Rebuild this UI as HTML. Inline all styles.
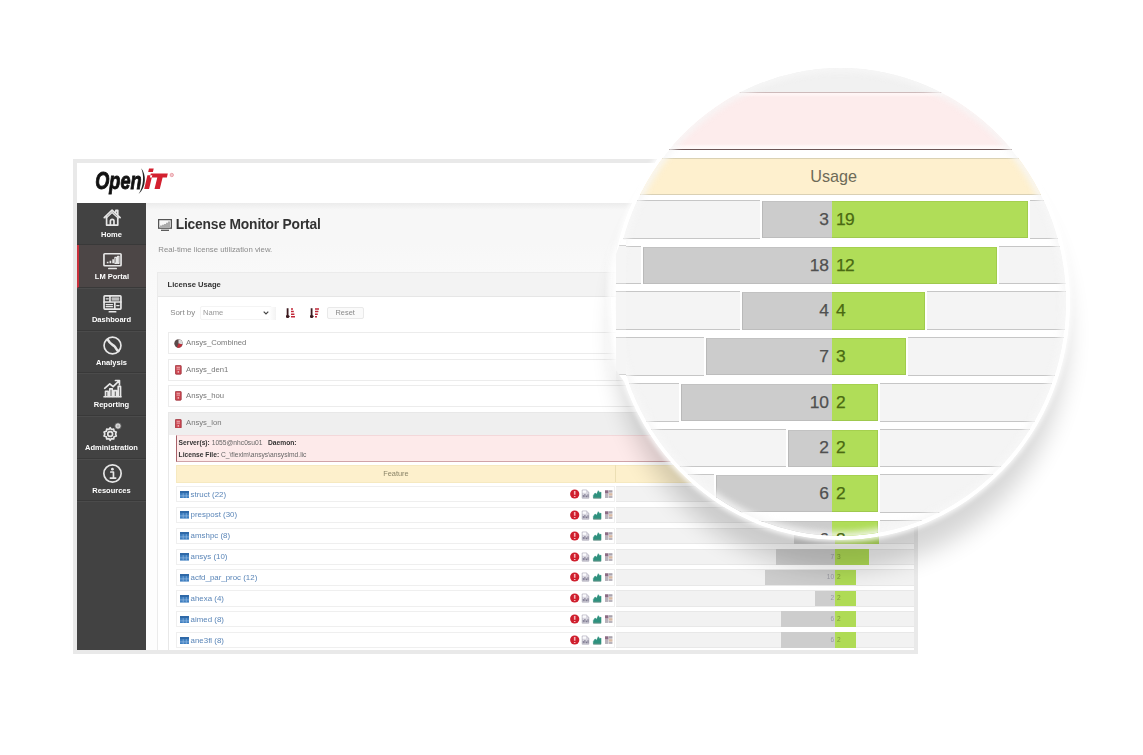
<!DOCTYPE html><html><head><meta charset="utf-8"><title>License Monitor Portal</title><style>
*{box-sizing:border-box;margin:0;padding:0}
html,body{width:1143px;height:755px;background:#fff;overflow:hidden}
body{position:relative;font-family:"Liberation Sans",sans-serif;color:#555}
.abs{position:absolute}
.t{position:absolute;white-space:nowrap;line-height:1}
#frame{left:73px;top:159px;width:845px;height:495px;background:#e9e9e9}
#inner{left:77px;top:162.5px;width:836.5px;height:487.5px;background:linear-gradient(#f7f7f7 0,#f7f7f7 80px,#f9f9f9 110px,#fbfbfb 200px,#fdfdfd 300px);overflow:hidden;filter:blur(0.4px)}
#hdr{left:0;top:0;width:100%;height:40px;background:#fff}
#side{left:0;top:40px;width:69px;height:448px;background:#424242}
.nav{position:absolute;left:0;width:69px;height:42.7px;border-bottom:1px solid #393939;box-shadow:0 1px 0 #4b4b4b}
.nav .lbl{position:absolute;left:0;width:100%;text-align:center;color:#fff;font-size:7.5px;font-weight:bold;line-height:1;top:28.2px;white-space:nowrap}
.nav svg{position:absolute;left:25.7px;top:5.7px;width:19px;height:19px;overflow:visible}
.nav.act{background:#4c4646;border-left:2px solid #c9303c}
.nav.act .lbl{left:-0.6px}.nav.act svg{left:23.7px}
.row{position:absolute;background:#fff;border:1px solid #ececec}
.frow{position:absolute;background:#fff;border:1px solid #efefef}
</style></head><body>
<div class="abs" id="frame"></div>
<div class="abs" id="inner">
<div class="abs" id="hdr"></div>
<svg class="abs" style="left:15px;top:2px;width:100px;height:36px" viewBox="92 164.5 100 36"><text x="0" y="0" transform="translate(95.3 188.4) scale(0.77 1)" font-family="Liberation Sans" font-weight="bold" font-style="italic" font-size="23.5" fill="#111" stroke="#111" stroke-width="0.9">Open</text><path d="M141.2 167.8 C146.4 174 146.6 186.5 138.6 193.6 C143.8 186 144.2 174.5 141.2 167.8Z" fill="#222"/><path d="M144.2 188.4 L149.1 188.4 L152.3 174.8 L147.4 174.8 Z M148.2 171.5 L152.9 171.5 L153.7 168 L149 168 Z M150.8 173.1 L167.8 173.1 L166.9 176.9 L149.9 176.9 Z M157.3 176.9 L162.6 176.9 L159.8 188.4 L154.5 188.4 Z" fill="#d3202f"/><circle cx="171.8" cy="174.5" r="1.7" fill="#f3c9cd" stroke="#e58d96" stroke-width="0.7"/></svg>
<div class="abs" style="left:69px;top:40px;width:770px;height:7px;background:linear-gradient(#ececec,#f7f7f7)"></div>
<div class="abs" id="side">
<div class="nav" style="top:0.0px"><svg viewBox="0 0 18 18"><path d="M1.2 9.2 L8.6 2 L16.2 9.2 M3.4 8.6 V16.2 H14 V8.6 M7 16 V12.4 a1.7 1.7 0 0 1 3.4 0 V16 M12.2 3.6 V2.2 H14 V6.2" stroke="#e6e6e6" fill="none" stroke-width="1.6" stroke-linejoin="round" stroke-linecap="round"/><path d="M3 9.6 L8.6 4.3 L14.4 9.6" stroke="#e6e6e6" fill="none" stroke-width="1.2" stroke-linejoin="round" stroke-linecap="round"/></svg><div class="lbl">Home</div></div>
<div class="nav act" style="top:42.7px"><svg viewBox="0 0 18 18"><rect x="0.9" y="2.6" width="16.2" height="11.4" rx="0.8" stroke="#e6e6e6" fill="none" stroke-width="1.6" stroke-linejoin="round" stroke-linecap="round"/><path d="M5.5 16.6 H12.5" stroke="#e6e6e6" fill="none" stroke-width="1.6" stroke-linejoin="round" stroke-linecap="round"/><path d="M3.6 11.6h1.6v-1.4H3.6z M6.2 11.6h1.6V9.2H6.2z M8.8 11.6h1.6V7.8H8.8z" fill="#e6e6e6"/><rect x="11.3" y="6" width="1.6" height="5.6" stroke="#e6e6e6" fill="none" stroke-width="1.2" stroke-linejoin="round" stroke-linecap="round"/><rect x="13.8" y="5" width="1.3" height="6.6" stroke="#e6e6e6" fill="none" stroke-width="1.2" stroke-linejoin="round" stroke-linecap="round"/></svg><div class="lbl">LM Portal</div></div>
<div class="nav" style="top:85.4px"><svg viewBox="0 0 18 18"><rect x="1" y="1.8" width="16" height="12.6" rx="0.8" stroke="#e6e6e6" fill="none" stroke-width="1.6" stroke-linejoin="round" stroke-linecap="round"/><path d="M6 16.8 H12 M1 7.6 H17 M6.6 1.8 V7.6 M11.2 7.6 V14.4" stroke="#e6e6e6" fill="none" stroke-width="1.6" stroke-linejoin="round" stroke-linecap="round"/><path d="M3 4.6h2 M8.6 4h6.4 M8.6 5.6h6.4 M3 10h6 M3 12h6 M13 11h2.2" stroke="#e6e6e6" fill="none" stroke-width="1.2" stroke-linejoin="round" stroke-linecap="round"/></svg><div class="lbl">Dashboard</div></div>
<div class="nav" style="top:128.1px"><svg viewBox="0 0 18 18"><circle cx="9" cy="9" r="8" stroke="#e6e6e6" fill="none" stroke-width="1.6" stroke-linejoin="round" stroke-linecap="round"/><path d="M4.6 3.6 C6.2 7.2 8.6 8 10.6 9.4 C12.6 10.8 12 13.4 14.6 14.2" stroke="#e6e6e6" fill="none" stroke-width="2.4" stroke-linecap="round"/></svg><div class="lbl">Analysis</div></div>
<div class="nav" style="top:170.8px"><svg viewBox="0 0 18 18"><path d="M1 16.8 H17" stroke="#e6e6e6" fill="none" stroke-width="1.6" stroke-linejoin="round" stroke-linecap="round"/><path d="M2.4 16.4V11.6h2.4V16.4 M6.4 16.4V9.4h2.4V16.4 M10.4 16.4V11h2.4V16.4 M14.4 16.4V7h2.2V16.4 M1.6 8.8 L6.4 4.6 L9.6 7.2 L15.4 1.6 M11.8 1.4 H15.6 V5.2" stroke="#e6e6e6" fill="none" stroke-width="1.6" stroke-linejoin="round" stroke-linecap="round"/></svg><div class="lbl">Reporting</div></div>
<div class="nav" style="top:213.5px"><svg viewBox="0 0 18 18"><circle cx="6.8" cy="11.4" r="2.3" stroke="#e6e6e6" fill="none" stroke-width="1.6" stroke-linejoin="round" stroke-linecap="round"/><path d="M6.8 5.4 L8 7.1 L10.1 6.7 L10.5 8.8 L12.6 9.5 L11.9 11.4 L12.6 13.3 L10.5 14 L10.1 16.1 L8 15.7 L6.8 17.4 L5.6 15.7 L3.5 16.1 L3.1 14 L1 13.3 L1.7 11.4 L1 9.5 L3.1 8.8 L3.5 6.7 L5.6 7.1 Z" stroke="#e6e6e6" fill="none" stroke-width="1.6" stroke-linejoin="round" stroke-linecap="round"/><circle cx="14.2" cy="3.8" r="3.1" fill="#d2d2d2" stroke="#444" stroke-width="0.8"/><circle cx="14.2" cy="3.8" r="0.8" fill="#9a9a9a"/></svg><div class="lbl">Administration</div></div>
<div class="nav" style="top:256.2px"><svg viewBox="0 0 18 18"><circle cx="9" cy="9" r="8.2" stroke="#e6e6e6" fill="none" stroke-width="1.6" stroke-linejoin="round" stroke-linecap="round"/><path d="M7.4 7.6 H9.9 V13 M7 13.3 H12" stroke="#e6e6e6" fill="none" stroke-width="1.6" stroke-linejoin="round" stroke-linecap="round"/><circle cx="8.9" cy="4.9" r="1.3" fill="#e6e6e6"/></svg><div class="lbl">Resources</div></div>
</div>
<svg class="abs" style="left:81.2px;top:56.5px;width:14px;height:12px" viewBox="0 0 14 12"><rect x="0.6" y="0.6" width="12.8" height="8.6" fill="none" stroke="#555" stroke-width="1.3"/><path d="M3 11.3h8" stroke="#555" stroke-width="1.3"/><path d="M3 8V6.6 M5 8V5.8 M7 8V5 M9 8V3.8 M11 8V2.6" stroke="#777" stroke-width="1.2"/></svg>
<div class="t" style="left:98.7px;top:55.2px;font-size:13.8px;font-weight:bold;color:#333;letter-spacing:-0.17px">License Monitor Portal</div>
<div class="t" style="left:81.3px;top:83.13px;font-size:7.8px;color:#8c8c8c;">Real-time license utilization view.</div>
<div class="abs" style="left:80.4px;top:109.1px;width:770px;height:400px;background:#fff;border:1px solid #ebebeb"></div>
<div class="abs" style="left:81.4px;top:110.1px;width:770px;height:24.5px;background:#f3f3f3;border-bottom:1px solid #e6e6e6"></div>
<div class="t" style="left:90.6px;top:118.54px;font-size:7.6px;color:#333;font-weight:bold;">License Usage</div>
<div class="t" style="left:93.2px;top:146.38px;font-size:7.9px;color:#888;">Sort by</div>
<div class="t" style="left:126px;top:146.54px;font-size:7.6px;color:#999;">Name</div>
<svg class="abs" style="left:185.5px;top:148.5px;width:6px;height:4px" viewBox="0 0 6 4"><path d="M0.7 0.7 L3 3 L5.3 0.7" fill="none" stroke="#444" stroke-width="1.2"/></svg>
<div class="abs" style="left:122.5px;top:143.3px;width:72px;height:14.4px;border:1px solid #f4f4f4;border-radius:2px"></div>
<div class="abs" style="left:192px;top:144px;width:7px;height:13px;background:linear-gradient(90deg,#fff,#f3f3f3)"></div>
<svg class="abs" style="left:208.8px;top:145.2px;width:9px;height:10px" viewBox="0 0 9 10"><path d="M1.6 0.3V9.5 M0 7.6 L1.6 9.7 L3.2 7.6" stroke="#3d1a1f" stroke-width="1.8" fill="none"/><path d="M5 1h2 M5 3.6h2.8 M5 6.2h3.4 M5 8.8h4" stroke="#c22839" stroke-width="1.5"/></svg>
<svg class="abs" style="left:233.2px;top:145.2px;width:9px;height:10px" viewBox="0 0 9 10"><path d="M1.6 0.3V9.5 M0 7.6 L1.6 9.7 L3.2 7.6" stroke="#3d1a1f" stroke-width="1.8" fill="none"/><path d="M5 1h4 M5 3.6h3.4 M5 6.2h2.8 M5 8.8h2" stroke="#c22839" stroke-width="1.5"/></svg>
<div class="abs" style="left:250px;top:144.3px;width:36.5px;height:12.4px;background:#fafafa;border:1px solid #e9e9e9;border-radius:2px"></div>
<div class="t" style="left:258.5px;top:146.36px;font-size:7.4px;color:#888;">Reset</div>
<div class="row" style="left:90.7px;top:169.7px;width:760px;height:22px;"></div>
<svg class="abs" style="left:97.3px;top:176.2px;width:9px;height:9px" viewBox="0 0 9 9"><circle cx="4.5" cy="4.5" r="4.2" fill="#5a4a4a"/><path d="M4.5 4.5 L4.5 0.3 A4.2 4.2 0 0 1 8.5 5.6 Z" fill="#d9d9d9"/><path d="M4.5 4.5 L8.5 5.6 A4.2 4.2 0 0 1 3 8.4 Z" fill="#c0303c"/></svg>
<div class="t" style="left:109px;top:176.79px;font-size:7.7px;color:#777;">Ansys_Combined</div>
<div class="row" style="left:90.7px;top:196.6px;width:760px;height:22px;"></div>
<svg class="abs" style="left:98.1px;top:202.8px;width:6.6px;height:9.6px" viewBox="0 0 6.6 9.6"><rect x="0.4" y="0.4" width="5.8" height="8.8" rx="0.7" fill="#cf4a54" stroke="#9a3039" stroke-width="0.8"/><path d="M1.6 2.3h3.4 M1.6 4.1h3.4" stroke="#f3c7ca" stroke-width="0.8"/><circle cx="3.3" cy="6.9" r="0.8" fill="#f3c7ca"/></svg>
<div class="t" style="left:109px;top:203.69px;font-size:7.7px;color:#777;">Ansys_den1</div>
<div class="row" style="left:90.7px;top:222.5px;width:760px;height:22px;"></div>
<svg class="abs" style="left:98.1px;top:228.7px;width:6.6px;height:9.6px" viewBox="0 0 6.6 9.6"><rect x="0.4" y="0.4" width="5.8" height="8.8" rx="0.7" fill="#cf4a54" stroke="#9a3039" stroke-width="0.8"/><path d="M1.6 2.3h3.4 M1.6 4.1h3.4" stroke="#f3c7ca" stroke-width="0.8"/><circle cx="3.3" cy="6.9" r="0.8" fill="#f3c7ca"/></svg>
<div class="t" style="left:109px;top:229.59px;font-size:7.7px;color:#777;">Ansys_hou</div>
<div class="abs" style="left:90.7px;top:249.9px;width:760px;height:250px;background:#fff;border:1px solid #e8e8e8"></div>
<div class="abs" style="left:91.7px;top:250.9px;width:760px;height:21.5px;background:#efefef"></div>
<svg class="abs" style="left:98.1px;top:256.1px;width:6.6px;height:9.6px" viewBox="0 0 6.6 9.6"><rect x="0.4" y="0.4" width="5.8" height="8.8" rx="0.7" fill="#cf4a54" stroke="#9a3039" stroke-width="0.8"/><path d="M1.6 2.3h3.4 M1.6 4.1h3.4" stroke="#f3c7ca" stroke-width="0.8"/><circle cx="3.3" cy="6.9" r="0.8" fill="#f3c7ca"/></svg>
<div class="t" style="left:109px;top:256.99px;font-size:7.7px;color:#777;">Ansys_lon</div>
<div class="abs" style="left:98.7px;top:272px;width:760px;height:27px;background:#fdeaea;border:1px solid #dba3a8;border-bottom:1.6px solid #d0a3a8;border-top-color:#f3d8da;border-left:1.5px solid #a8626a"></div>
<div class="t" style="left:101.6px;top:277.6px;font-size:6.7px;color:#666"><b style="color:#333">Server(s):</b> 1055@nhc0su01 &nbsp; <b style="color:#333">Daemon:</b></div>
<div class="t" style="left:101.6px;top:289.2px;font-size:6.7px;color:#666"><b style="color:#333">License File:</b> C_\flexlm\ansys\ansyslmd.lic</div>
<div class="abs" style="left:98.7px;top:302.1px;width:760px;height:18px;background:#fdf0cc;border:1px solid #f6e9c0"></div>
<div class="abs" style="left:537.9px;top:302.5px;width:1px;height:17.2px;background:#ecdfb4"></div>
<div class="t" style="left:306.2px;top:307.36px;font-size:7.4px;color:#8a8468;">Feature</div>
<div class="frow" style="left:98.7px;top:323.3px;width:439.8px;height:16.3px;"></div>
<div class="abs" style="left:539.2px;top:323.3px;width:320px;height:16.3px;background:#f2f2f2;border-top:1px solid #e8e8e8;border-bottom:1px solid #e8e8e8"></div>
<svg class="abs" style="left:102.5px;top:328px;width:9.4px;height:7.6px" viewBox="0 0 9.4 7.6"><rect width="9.4" height="7.6" fill="#3f7fc0"/><rect y="0" width="9.4" height="2.2" fill="#2f69a8"/><path d="M0 4.9h9.4 M3.2 2.2v5.4 M6.3 2.2v5.4" stroke="#9dc1e6" stroke-width="0.6"/></svg>
<div class="t" style="left:113.6px;top:328.08px;font-size:7.9px;color:#5b86b8;">struct (22)</div>
<svg class="abs" style="left:492.9px;top:326.3px;width:44px;height:10px" viewBox="0 0 44 10"><circle cx="4.7" cy="5" r="4.6" fill="#cf1f2e"/><path d="M4.7 2.1V5.7 M4.7 7V8.1" stroke="#f6b4b8" stroke-width="1.6"/><path d="M12.2 1h4.2l2.4 2.2v6h-6.6z" fill="#d9d7e0" stroke="#a9a6b6" stroke-width="0.7"/><path d="M12.6 1.4h3.4v2.4h-3.4z" fill="#fbfbfd"/><path d="M13.3 8.3v-2.2 M14.9 8.3v-3.4 M16.5 8.3v-1.8 M18 8.3v-3" stroke="#7e7a90" stroke-width="1.1"/><path d="M23.4 8.8V6.4l1.7-2.4 1.5 1.3 1.7-3.6 1.5 2.1 1.2-.7V8.8z" fill="#2e917e" stroke="#2e917e" stroke-width="0.6" stroke-linejoin="round"/><path d="M23.2 9.1h8" stroke="#3f6f66" stroke-width="0.7"/><rect x="35" y="1.3" width="7.4" height="7.4" fill="#e6e4e8"/><path d="M35 1.3h3.4v3.2H35z" fill="#8c6c84"/><path d="M38.9 1.3h3.5v2.2h-3.5z M35 5.2h3.2v1.5H35z M35 7.2h3.2v1.5H35z M38.9 7.2h3.5v1.5h-3.5z" fill="#a9a3ad"/><path d="M38.9 4.2h3.5v2.4h-3.5z" fill="#d8b9a2"/></svg>
<div class="abs" style="left:725.4px;top:323.5px;width:32.9px;height:15.9px;background:#cdcdcd"></div>
<div class="abs" style="left:758.3px;top:323.5px;width:89.1px;height:15.9px;background:#afdb55"></div>
<div class="t" style="left:737.1px;top:328.3px;width:20px;text-align:right;font-size:6.6px;color:#9a9aa2">3</div>
<div class="t" style="left:759.9px;top:328.3px;font-size:6.6px;color:#7e9c3c">19</div>
<div class="frow" style="left:98.7px;top:344.2px;width:439.8px;height:16.3px;"></div>
<div class="abs" style="left:539.2px;top:344.2px;width:320px;height:16.3px;background:#f2f2f2;border-top:1px solid #e8e8e8;border-bottom:1px solid #e8e8e8"></div>
<svg class="abs" style="left:102.5px;top:348.9px;width:9.4px;height:7.6px" viewBox="0 0 9.4 7.6"><rect width="9.4" height="7.6" fill="#3f7fc0"/><rect y="0" width="9.4" height="2.2" fill="#2f69a8"/><path d="M0 4.9h9.4 M3.2 2.2v5.4 M6.3 2.2v5.4" stroke="#9dc1e6" stroke-width="0.6"/></svg>
<div class="t" style="left:113.6px;top:348.98px;font-size:7.9px;color:#5b86b8;">prespost (30)</div>
<svg class="abs" style="left:492.9px;top:347.2px;width:44px;height:10px" viewBox="0 0 44 10"><circle cx="4.7" cy="5" r="4.6" fill="#cf1f2e"/><path d="M4.7 2.1V5.7 M4.7 7V8.1" stroke="#f6b4b8" stroke-width="1.6"/><path d="M12.2 1h4.2l2.4 2.2v6h-6.6z" fill="#d9d7e0" stroke="#a9a6b6" stroke-width="0.7"/><path d="M12.6 1.4h3.4v2.4h-3.4z" fill="#fbfbfd"/><path d="M13.3 8.3v-2.2 M14.9 8.3v-3.4 M16.5 8.3v-1.8 M18 8.3v-3" stroke="#7e7a90" stroke-width="1.1"/><path d="M23.4 8.8V6.4l1.7-2.4 1.5 1.3 1.7-3.6 1.5 2.1 1.2-.7V8.8z" fill="#2e917e" stroke="#2e917e" stroke-width="0.6" stroke-linejoin="round"/><path d="M23.2 9.1h8" stroke="#3f6f66" stroke-width="0.7"/><rect x="35" y="1.3" width="7.4" height="7.4" fill="#e6e4e8"/><path d="M35 1.3h3.4v3.2H35z" fill="#8c6c84"/><path d="M38.9 1.3h3.5v2.2h-3.5z M35 5.2h3.2v1.5H35z M35 7.2h3.2v1.5H35z M38.9 7.2h3.5v1.5h-3.5z" fill="#a9a3ad"/><path d="M38.9 4.2h3.5v2.4h-3.5z" fill="#d8b9a2"/></svg>
<div class="abs" style="left:680px;top:344.4px;width:78.3px;height:15.9px;background:#cdcdcd"></div>
<div class="abs" style="left:758.3px;top:344.4px;width:74.7px;height:15.9px;background:#afdb55"></div>
<div class="t" style="left:737.1px;top:349.2px;width:20px;text-align:right;font-size:6.6px;color:#9a9aa2">18</div>
<div class="t" style="left:759.9px;top:349.2px;font-size:6.6px;color:#7e9c3c">12</div>
<div class="frow" style="left:98.7px;top:365.1px;width:439.8px;height:16.3px;"></div>
<div class="abs" style="left:539.2px;top:365.1px;width:320px;height:16.3px;background:#f2f2f2;border-top:1px solid #e8e8e8;border-bottom:1px solid #e8e8e8"></div>
<svg class="abs" style="left:102.5px;top:369.8px;width:9.4px;height:7.6px" viewBox="0 0 9.4 7.6"><rect width="9.4" height="7.6" fill="#3f7fc0"/><rect y="0" width="9.4" height="2.2" fill="#2f69a8"/><path d="M0 4.9h9.4 M3.2 2.2v5.4 M6.3 2.2v5.4" stroke="#9dc1e6" stroke-width="0.6"/></svg>
<div class="t" style="left:113.6px;top:369.88px;font-size:7.9px;color:#5b86b8;">amshpc (8)</div>
<svg class="abs" style="left:492.9px;top:368.1px;width:44px;height:10px" viewBox="0 0 44 10"><circle cx="4.7" cy="5" r="4.6" fill="#cf1f2e"/><path d="M4.7 2.1V5.7 M4.7 7V8.1" stroke="#f6b4b8" stroke-width="1.6"/><path d="M12.2 1h4.2l2.4 2.2v6h-6.6z" fill="#d9d7e0" stroke="#a9a6b6" stroke-width="0.7"/><path d="M12.6 1.4h3.4v2.4h-3.4z" fill="#fbfbfd"/><path d="M13.3 8.3v-2.2 M14.9 8.3v-3.4 M16.5 8.3v-1.8 M18 8.3v-3" stroke="#7e7a90" stroke-width="1.1"/><path d="M23.4 8.8V6.4l1.7-2.4 1.5 1.3 1.7-3.6 1.5 2.1 1.2-.7V8.8z" fill="#2e917e" stroke="#2e917e" stroke-width="0.6" stroke-linejoin="round"/><path d="M23.2 9.1h8" stroke="#3f6f66" stroke-width="0.7"/><rect x="35" y="1.3" width="7.4" height="7.4" fill="#e6e4e8"/><path d="M35 1.3h3.4v3.2H35z" fill="#8c6c84"/><path d="M38.9 1.3h3.5v2.2h-3.5z M35 5.2h3.2v1.5H35z M35 7.2h3.2v1.5H35z M38.9 7.2h3.5v1.5h-3.5z" fill="#a9a3ad"/><path d="M38.9 4.2h3.5v2.4h-3.5z" fill="#d8b9a2"/></svg>
<div class="abs" style="left:716.5px;top:365.3px;width:41.8px;height:15.9px;background:#cdcdcd"></div>
<div class="abs" style="left:758.3px;top:365.3px;width:43.5px;height:15.9px;background:#afdb55"></div>
<div class="t" style="left:737.1px;top:370.1px;width:20px;text-align:right;font-size:6.6px;color:#9a9aa2">4</div>
<div class="t" style="left:759.9px;top:370.1px;font-size:6.6px;color:#7e9c3c">4</div>
<div class="frow" style="left:98.7px;top:386px;width:439.8px;height:16.3px;"></div>
<div class="abs" style="left:539.2px;top:386px;width:320px;height:16.3px;background:#f2f2f2;border-top:1px solid #e8e8e8;border-bottom:1px solid #e8e8e8"></div>
<svg class="abs" style="left:102.5px;top:390.7px;width:9.4px;height:7.6px" viewBox="0 0 9.4 7.6"><rect width="9.4" height="7.6" fill="#3f7fc0"/><rect y="0" width="9.4" height="2.2" fill="#2f69a8"/><path d="M0 4.9h9.4 M3.2 2.2v5.4 M6.3 2.2v5.4" stroke="#9dc1e6" stroke-width="0.6"/></svg>
<div class="t" style="left:113.6px;top:390.78px;font-size:7.9px;color:#5b86b8;">ansys (10)</div>
<svg class="abs" style="left:492.9px;top:389px;width:44px;height:10px" viewBox="0 0 44 10"><circle cx="4.7" cy="5" r="4.6" fill="#cf1f2e"/><path d="M4.7 2.1V5.7 M4.7 7V8.1" stroke="#f6b4b8" stroke-width="1.6"/><path d="M12.2 1h4.2l2.4 2.2v6h-6.6z" fill="#d9d7e0" stroke="#a9a6b6" stroke-width="0.7"/><path d="M12.6 1.4h3.4v2.4h-3.4z" fill="#fbfbfd"/><path d="M13.3 8.3v-2.2 M14.9 8.3v-3.4 M16.5 8.3v-1.8 M18 8.3v-3" stroke="#7e7a90" stroke-width="1.1"/><path d="M23.4 8.8V6.4l1.7-2.4 1.5 1.3 1.7-3.6 1.5 2.1 1.2-.7V8.8z" fill="#2e917e" stroke="#2e917e" stroke-width="0.6" stroke-linejoin="round"/><path d="M23.2 9.1h8" stroke="#3f6f66" stroke-width="0.7"/><rect x="35" y="1.3" width="7.4" height="7.4" fill="#e6e4e8"/><path d="M35 1.3h3.4v3.2H35z" fill="#8c6c84"/><path d="M38.9 1.3h3.5v2.2h-3.5z M35 5.2h3.2v1.5H35z M35 7.2h3.2v1.5H35z M38.9 7.2h3.5v1.5h-3.5z" fill="#a9a3ad"/><path d="M38.9 4.2h3.5v2.4h-3.5z" fill="#d8b9a2"/></svg>
<div class="abs" style="left:699px;top:386.2px;width:59.3px;height:15.9px;background:#cdcdcd"></div>
<div class="abs" style="left:758.3px;top:386.2px;width:33.7px;height:15.9px;background:#afdb55"></div>
<div class="t" style="left:737.1px;top:391px;width:20px;text-align:right;font-size:6.6px;color:#9a9aa2">7</div>
<div class="t" style="left:759.9px;top:391px;font-size:6.6px;color:#7e9c3c">3</div>
<div class="frow" style="left:98.7px;top:406.9px;width:439.8px;height:16.3px;"></div>
<div class="abs" style="left:539.2px;top:406.9px;width:320px;height:16.3px;background:#f2f2f2;border-top:1px solid #e8e8e8;border-bottom:1px solid #e8e8e8"></div>
<svg class="abs" style="left:102.5px;top:411.6px;width:9.4px;height:7.6px" viewBox="0 0 9.4 7.6"><rect width="9.4" height="7.6" fill="#3f7fc0"/><rect y="0" width="9.4" height="2.2" fill="#2f69a8"/><path d="M0 4.9h9.4 M3.2 2.2v5.4 M6.3 2.2v5.4" stroke="#9dc1e6" stroke-width="0.6"/></svg>
<div class="t" style="left:113.6px;top:411.68px;font-size:7.9px;color:#5b86b8;">acfd_par_proc (12)</div>
<svg class="abs" style="left:492.9px;top:409.9px;width:44px;height:10px" viewBox="0 0 44 10"><circle cx="4.7" cy="5" r="4.6" fill="#cf1f2e"/><path d="M4.7 2.1V5.7 M4.7 7V8.1" stroke="#f6b4b8" stroke-width="1.6"/><path d="M12.2 1h4.2l2.4 2.2v6h-6.6z" fill="#d9d7e0" stroke="#a9a6b6" stroke-width="0.7"/><path d="M12.6 1.4h3.4v2.4h-3.4z" fill="#fbfbfd"/><path d="M13.3 8.3v-2.2 M14.9 8.3v-3.4 M16.5 8.3v-1.8 M18 8.3v-3" stroke="#7e7a90" stroke-width="1.1"/><path d="M23.4 8.8V6.4l1.7-2.4 1.5 1.3 1.7-3.6 1.5 2.1 1.2-.7V8.8z" fill="#2e917e" stroke="#2e917e" stroke-width="0.6" stroke-linejoin="round"/><path d="M23.2 9.1h8" stroke="#3f6f66" stroke-width="0.7"/><rect x="35" y="1.3" width="7.4" height="7.4" fill="#e6e4e8"/><path d="M35 1.3h3.4v3.2H35z" fill="#8c6c84"/><path d="M38.9 1.3h3.5v2.2h-3.5z M35 5.2h3.2v1.5H35z M35 7.2h3.2v1.5H35z M38.9 7.2h3.5v1.5h-3.5z" fill="#a9a3ad"/><path d="M38.9 4.2h3.5v2.4h-3.5z" fill="#d8b9a2"/></svg>
<div class="abs" style="left:688.4px;top:407.1px;width:69.9px;height:15.9px;background:#cdcdcd"></div>
<div class="abs" style="left:758.3px;top:407.1px;width:21.2px;height:15.9px;background:#afdb55"></div>
<div class="t" style="left:737.1px;top:411.9px;width:20px;text-align:right;font-size:6.6px;color:#9a9aa2">10</div>
<div class="t" style="left:759.9px;top:411.9px;font-size:6.6px;color:#7e9c3c">2</div>
<div class="frow" style="left:98.7px;top:427.8px;width:439.8px;height:16.3px;"></div>
<div class="abs" style="left:539.2px;top:427.8px;width:320px;height:16.3px;background:#f2f2f2;border-top:1px solid #e8e8e8;border-bottom:1px solid #e8e8e8"></div>
<svg class="abs" style="left:102.5px;top:432.5px;width:9.4px;height:7.6px" viewBox="0 0 9.4 7.6"><rect width="9.4" height="7.6" fill="#3f7fc0"/><rect y="0" width="9.4" height="2.2" fill="#2f69a8"/><path d="M0 4.9h9.4 M3.2 2.2v5.4 M6.3 2.2v5.4" stroke="#9dc1e6" stroke-width="0.6"/></svg>
<div class="t" style="left:113.6px;top:432.58px;font-size:7.9px;color:#5b86b8;">ahexa (4)</div>
<svg class="abs" style="left:492.9px;top:430.8px;width:44px;height:10px" viewBox="0 0 44 10"><circle cx="4.7" cy="5" r="4.6" fill="#cf1f2e"/><path d="M4.7 2.1V5.7 M4.7 7V8.1" stroke="#f6b4b8" stroke-width="1.6"/><path d="M12.2 1h4.2l2.4 2.2v6h-6.6z" fill="#d9d7e0" stroke="#a9a6b6" stroke-width="0.7"/><path d="M12.6 1.4h3.4v2.4h-3.4z" fill="#fbfbfd"/><path d="M13.3 8.3v-2.2 M14.9 8.3v-3.4 M16.5 8.3v-1.8 M18 8.3v-3" stroke="#7e7a90" stroke-width="1.1"/><path d="M23.4 8.8V6.4l1.7-2.4 1.5 1.3 1.7-3.6 1.5 2.1 1.2-.7V8.8z" fill="#2e917e" stroke="#2e917e" stroke-width="0.6" stroke-linejoin="round"/><path d="M23.2 9.1h8" stroke="#3f6f66" stroke-width="0.7"/><rect x="35" y="1.3" width="7.4" height="7.4" fill="#e6e4e8"/><path d="M35 1.3h3.4v3.2H35z" fill="#8c6c84"/><path d="M38.9 1.3h3.5v2.2h-3.5z M35 5.2h3.2v1.5H35z M35 7.2h3.2v1.5H35z M38.9 7.2h3.5v1.5h-3.5z" fill="#a9a3ad"/><path d="M38.9 4.2h3.5v2.4h-3.5z" fill="#d8b9a2"/></svg>
<div class="abs" style="left:738.2px;top:428px;width:20.1px;height:15.9px;background:#cdcdcd"></div>
<div class="abs" style="left:758.3px;top:428px;width:21.2px;height:15.9px;background:#afdb55"></div>
<div class="t" style="left:737.1px;top:432.8px;width:20px;text-align:right;font-size:6.6px;color:#9a9aa2">2</div>
<div class="t" style="left:759.9px;top:432.8px;font-size:6.6px;color:#7e9c3c">2</div>
<div class="frow" style="left:98.7px;top:448.7px;width:439.8px;height:16.3px;"></div>
<div class="abs" style="left:539.2px;top:448.7px;width:320px;height:16.3px;background:#f2f2f2;border-top:1px solid #e8e8e8;border-bottom:1px solid #e8e8e8"></div>
<svg class="abs" style="left:102.5px;top:453.4px;width:9.4px;height:7.6px" viewBox="0 0 9.4 7.6"><rect width="9.4" height="7.6" fill="#3f7fc0"/><rect y="0" width="9.4" height="2.2" fill="#2f69a8"/><path d="M0 4.9h9.4 M3.2 2.2v5.4 M6.3 2.2v5.4" stroke="#9dc1e6" stroke-width="0.6"/></svg>
<div class="t" style="left:113.6px;top:453.48px;font-size:7.9px;color:#5b86b8;">aimed (8)</div>
<svg class="abs" style="left:492.9px;top:451.7px;width:44px;height:10px" viewBox="0 0 44 10"><circle cx="4.7" cy="5" r="4.6" fill="#cf1f2e"/><path d="M4.7 2.1V5.7 M4.7 7V8.1" stroke="#f6b4b8" stroke-width="1.6"/><path d="M12.2 1h4.2l2.4 2.2v6h-6.6z" fill="#d9d7e0" stroke="#a9a6b6" stroke-width="0.7"/><path d="M12.6 1.4h3.4v2.4h-3.4z" fill="#fbfbfd"/><path d="M13.3 8.3v-2.2 M14.9 8.3v-3.4 M16.5 8.3v-1.8 M18 8.3v-3" stroke="#7e7a90" stroke-width="1.1"/><path d="M23.4 8.8V6.4l1.7-2.4 1.5 1.3 1.7-3.6 1.5 2.1 1.2-.7V8.8z" fill="#2e917e" stroke="#2e917e" stroke-width="0.6" stroke-linejoin="round"/><path d="M23.2 9.1h8" stroke="#3f6f66" stroke-width="0.7"/><rect x="35" y="1.3" width="7.4" height="7.4" fill="#e6e4e8"/><path d="M35 1.3h3.4v3.2H35z" fill="#8c6c84"/><path d="M38.9 1.3h3.5v2.2h-3.5z M35 5.2h3.2v1.5H35z M35 7.2h3.2v1.5H35z M38.9 7.2h3.5v1.5h-3.5z" fill="#a9a3ad"/><path d="M38.9 4.2h3.5v2.4h-3.5z" fill="#d8b9a2"/></svg>
<div class="abs" style="left:704.3px;top:448.9px;width:54px;height:15.9px;background:#cdcdcd"></div>
<div class="abs" style="left:758.3px;top:448.9px;width:21.2px;height:15.9px;background:#afdb55"></div>
<div class="t" style="left:737.1px;top:453.7px;width:20px;text-align:right;font-size:6.6px;color:#9a9aa2">6</div>
<div class="t" style="left:759.9px;top:453.7px;font-size:6.6px;color:#7e9c3c">2</div>
<div class="frow" style="left:98.7px;top:469.6px;width:439.8px;height:16.3px;"></div>
<div class="abs" style="left:539.2px;top:469.6px;width:320px;height:16.3px;background:#f2f2f2;border-top:1px solid #e8e8e8;border-bottom:1px solid #e8e8e8"></div>
<svg class="abs" style="left:102.5px;top:474.3px;width:9.4px;height:7.6px" viewBox="0 0 9.4 7.6"><rect width="9.4" height="7.6" fill="#3f7fc0"/><rect y="0" width="9.4" height="2.2" fill="#2f69a8"/><path d="M0 4.9h9.4 M3.2 2.2v5.4 M6.3 2.2v5.4" stroke="#9dc1e6" stroke-width="0.6"/></svg>
<div class="t" style="left:113.6px;top:474.38px;font-size:7.9px;color:#5b86b8;">ane3fl (8)</div>
<svg class="abs" style="left:492.9px;top:472.6px;width:44px;height:10px" viewBox="0 0 44 10"><circle cx="4.7" cy="5" r="4.6" fill="#cf1f2e"/><path d="M4.7 2.1V5.7 M4.7 7V8.1" stroke="#f6b4b8" stroke-width="1.6"/><path d="M12.2 1h4.2l2.4 2.2v6h-6.6z" fill="#d9d7e0" stroke="#a9a6b6" stroke-width="0.7"/><path d="M12.6 1.4h3.4v2.4h-3.4z" fill="#fbfbfd"/><path d="M13.3 8.3v-2.2 M14.9 8.3v-3.4 M16.5 8.3v-1.8 M18 8.3v-3" stroke="#7e7a90" stroke-width="1.1"/><path d="M23.4 8.8V6.4l1.7-2.4 1.5 1.3 1.7-3.6 1.5 2.1 1.2-.7V8.8z" fill="#2e917e" stroke="#2e917e" stroke-width="0.6" stroke-linejoin="round"/><path d="M23.2 9.1h8" stroke="#3f6f66" stroke-width="0.7"/><rect x="35" y="1.3" width="7.4" height="7.4" fill="#e6e4e8"/><path d="M35 1.3h3.4v3.2H35z" fill="#8c6c84"/><path d="M38.9 1.3h3.5v2.2h-3.5z M35 5.2h3.2v1.5H35z M35 7.2h3.2v1.5H35z M38.9 7.2h3.5v1.5h-3.5z" fill="#a9a3ad"/><path d="M38.9 4.2h3.5v2.4h-3.5z" fill="#d8b9a2"/></svg>
<div class="abs" style="left:704.3px;top:469.8px;width:54px;height:15.9px;background:#cdcdcd"></div>
<div class="abs" style="left:758.3px;top:469.8px;width:21.2px;height:15.9px;background:#afdb55"></div>
<div class="t" style="left:737.1px;top:474.6px;width:20px;text-align:right;font-size:6.6px;color:#9a9aa2">6</div>
<div class="t" style="left:759.9px;top:474.6px;font-size:6.6px;color:#7e9c3c">2</div>
</div>
<div class="abs" style="left:611px;top:64.4px;width:459px;height:475.8px;border-radius:50%;box-shadow:0 33px 23px -3px rgba(0,0,0,0.165)"></div>
<div class="abs" style="left:611px;top:64.4px;width:459px;height:475.8px;border-radius:50%;box-shadow:0 0 5px 2px rgba(255,255,255,0.85)"></div>
<div class="abs" style="left:604px;top:236px;width:12px;height:150px;background:linear-gradient(90deg,rgba(255,255,255,0),rgba(255,255,255,0.9));-webkit-mask-image:linear-gradient(180deg,transparent,#000 22%,#000 78%,transparent);mask-image:linear-gradient(180deg,transparent,#000 22%,#000 78%,transparent)"></div>
<div class="abs" id="lens" style="left:611px;top:64.4px;width:459px;height:475.8px;border-radius:50%;border:4px solid #fff;overflow:hidden;background:#fff;clip-path:inset(0 0 0 4.9px)">
<div class="abs" style="left:-15px;top:-8.4px;width:480px;height:33px;background:#f1f1f1"></div>
<div class="abs" style="left:-15px;top:23.3px;width:480px;height:58.4px;background:linear-gradient(#fff6f6 0,#fff4f4 2px,#fdecec 4px,#fdecec 51px,#fff6f6 53px,#fffafa 100%);border-top:1.6px solid #cdbaba;border-bottom:1.7px solid #6d5555"></div>
<div class="abs" style="left:-15px;top:89.5px;width:480px;height:37.2px;background:#fef0ce;border-top:1.6px solid #dad1b3;border-bottom:1.8px solid #dad0b4"></div>
<div class="t" style="left:168.6px;top:100.1px;width:100px;text-align:center;font-size:16.2px;color:#6d6a58">Usage</div>
<div class="abs" style="left:-15px;top:131.7px;width:480px;height:38.7px;background:#f4f4f4;border-top:1.6px solid #c6c6c6;border-bottom:1.6px solid #c6c6c6"></div>
<div class="abs" style="left:145px;top:131.7px;width:270.3px;height:38.7px;background:#fff"></div>
<div class="abs" style="left:147px;top:132.7px;width:70.3px;height:37.1px;background:#cccccc;border-left:1px solid #b9b9b9;border-bottom:1.5px solid #bdbdbd;border-top:1.2px solid #c2c2c2"></div>
<div class="abs" style="left:217.3px;top:132.7px;width:196px;height:37.1px;background:#b0dd58;border-bottom:1.5px solid #9fc94e;border-top:1.2px solid #a5d04f;border-right:1px solid #a1cc4c"></div>
<div class="t" style="z-index:3;left:154px;top:142.45px;width:60px;text-align:right;font-size:17.4px;color:#505050;-webkit-text-stroke:0.25px #505050">3</div>
<div class="t" style="z-index:3;left:221px;top:142.45px;font-size:17.4px;letter-spacing:-0.7px;color:#4a6a12;-webkit-text-stroke:0.25px #4a6a12">19</div>
<div class="abs" style="left:-15px;top:177.4px;width:480px;height:38.7px;background:#f4f4f4;border-top:1.6px solid #c6c6c6;border-bottom:1.6px solid #c6c6c6"></div>
<div class="abs" style="left:26.4px;top:177.4px;width:357.9px;height:38.7px;background:#fff"></div>
<div class="abs" style="left:28.4px;top:178.4px;width:188.9px;height:37.1px;background:#cccccc;border-left:1px solid #b9b9b9;border-bottom:1.5px solid #bdbdbd;border-top:1.2px solid #c2c2c2"></div>
<div class="abs" style="left:217.3px;top:178.4px;width:165px;height:37.1px;background:#b0dd58;border-bottom:1.5px solid #9fc94e;border-top:1.2px solid #a5d04f;border-right:1px solid #a1cc4c"></div>
<div class="t" style="z-index:3;left:154px;top:188.15px;width:60px;text-align:right;font-size:17.4px;color:#505050;-webkit-text-stroke:0.25px #505050">18</div>
<div class="t" style="z-index:3;left:221px;top:188.15px;font-size:17.4px;letter-spacing:-0.7px;color:#4a6a12;-webkit-text-stroke:0.25px #4a6a12">12</div>
<div class="abs" style="left:-15px;top:223.1px;width:480px;height:38.7px;background:#f4f4f4;border-top:1.6px solid #c6c6c6;border-bottom:1.6px solid #c6c6c6"></div>
<div class="abs" style="left:125.2px;top:223.1px;width:186.4px;height:38.7px;background:#fff"></div>
<div class="abs" style="left:127.2px;top:224.1px;width:90.1px;height:37.1px;background:#cccccc;border-left:1px solid #b9b9b9;border-bottom:1.5px solid #bdbdbd;border-top:1.2px solid #c2c2c2"></div>
<div class="abs" style="left:217.3px;top:224.1px;width:92.3px;height:37.1px;background:#b0dd58;border-bottom:1.5px solid #9fc94e;border-top:1.2px solid #a5d04f;border-right:1px solid #a1cc4c"></div>
<div class="t" style="z-index:3;left:154px;top:233.85px;width:60px;text-align:right;font-size:17.4px;color:#505050;-webkit-text-stroke:0.25px #505050">4</div>
<div class="t" style="z-index:3;left:221px;top:233.85px;font-size:17.4px;letter-spacing:-0.7px;color:#4a6a12;-webkit-text-stroke:0.25px #4a6a12">4</div>
<div class="abs" style="left:-15px;top:268.8px;width:480px;height:38.7px;background:#f4f4f4;border-top:1.6px solid #c6c6c6;border-bottom:1.6px solid #c6c6c6"></div>
<div class="abs" style="left:88.9px;top:268.8px;width:203.9px;height:38.7px;background:#fff"></div>
<div class="abs" style="left:90.9px;top:269.8px;width:126.4px;height:37.1px;background:#cccccc;border-left:1px solid #b9b9b9;border-bottom:1.5px solid #bdbdbd;border-top:1.2px solid #c2c2c2"></div>
<div class="abs" style="left:217.3px;top:269.8px;width:73.5px;height:37.1px;background:#b0dd58;border-bottom:1.5px solid #9fc94e;border-top:1.2px solid #a5d04f;border-right:1px solid #a1cc4c"></div>
<div class="t" style="z-index:3;left:154px;top:279.55px;width:60px;text-align:right;font-size:17.4px;color:#505050;-webkit-text-stroke:0.25px #505050">7</div>
<div class="t" style="z-index:3;left:221px;top:279.55px;font-size:17.4px;letter-spacing:-0.7px;color:#4a6a12;-webkit-text-stroke:0.25px #4a6a12">3</div>
<div class="abs" style="left:-15px;top:314.5px;width:480px;height:38.7px;background:#f4f4f4;border-top:1.6px solid #c6c6c6;border-bottom:1.6px solid #c6c6c6"></div>
<div class="abs" style="left:64.4px;top:314.5px;width:200.9px;height:38.7px;background:#fff"></div>
<div class="abs" style="left:66.4px;top:315.5px;width:150.9px;height:37.1px;background:#cccccc;border-left:1px solid #b9b9b9;border-bottom:1.5px solid #bdbdbd;border-top:1.2px solid #c2c2c2"></div>
<div class="abs" style="left:217.3px;top:315.5px;width:46px;height:37.1px;background:#b0dd58;border-bottom:1.5px solid #9fc94e;border-top:1.2px solid #a5d04f;border-right:1px solid #a1cc4c"></div>
<div class="t" style="z-index:3;left:154px;top:325.25px;width:60px;text-align:right;font-size:17.4px;color:#505050;-webkit-text-stroke:0.25px #505050">10</div>
<div class="t" style="z-index:3;left:221px;top:325.25px;font-size:17.4px;letter-spacing:-0.7px;color:#4a6a12;-webkit-text-stroke:0.25px #4a6a12">2</div>
<div class="abs" style="left:-15px;top:360.2px;width:480px;height:38.7px;background:#f4f4f4;border-top:1.6px solid #c6c6c6;border-bottom:1.6px solid #c6c6c6"></div>
<div class="abs" style="left:171.2px;top:360.2px;width:94.1px;height:38.7px;background:#fff"></div>
<div class="abs" style="left:173.2px;top:361.2px;width:44.1px;height:37.1px;background:#cccccc;border-left:1px solid #b9b9b9;border-bottom:1.5px solid #bdbdbd;border-top:1.2px solid #c2c2c2"></div>
<div class="abs" style="left:217.3px;top:361.2px;width:46px;height:37.1px;background:#b0dd58;border-bottom:1.5px solid #9fc94e;border-top:1.2px solid #a5d04f;border-right:1px solid #a1cc4c"></div>
<div class="t" style="z-index:3;left:154px;top:370.95px;width:60px;text-align:right;font-size:17.4px;color:#505050;-webkit-text-stroke:0.25px #505050">2</div>
<div class="t" style="z-index:3;left:221px;top:370.95px;font-size:17.4px;letter-spacing:-0.7px;color:#4a6a12;-webkit-text-stroke:0.25px #4a6a12">2</div>
<div class="abs" style="left:-15px;top:405.9px;width:480px;height:38.7px;background:#f4f4f4;border-top:1.6px solid #c6c6c6;border-bottom:1.6px solid #c6c6c6"></div>
<div class="abs" style="left:99px;top:405.9px;width:166.3px;height:38.7px;background:#fff"></div>
<div class="abs" style="left:101px;top:406.9px;width:116.3px;height:37.1px;background:#cccccc;border-left:1px solid #b9b9b9;border-bottom:1.5px solid #bdbdbd;border-top:1.2px solid #c2c2c2"></div>
<div class="abs" style="left:217.3px;top:406.9px;width:46px;height:37.1px;background:#b0dd58;border-bottom:1.5px solid #9fc94e;border-top:1.2px solid #a5d04f;border-right:1px solid #a1cc4c"></div>
<div class="t" style="z-index:3;left:154px;top:416.65px;width:60px;text-align:right;font-size:17.4px;color:#505050;-webkit-text-stroke:0.25px #505050">6</div>
<div class="t" style="z-index:3;left:221px;top:416.65px;font-size:17.4px;letter-spacing:-0.7px;color:#4a6a12;-webkit-text-stroke:0.25px #4a6a12">2</div>
<div class="abs" style="left:-15px;top:451.6px;width:480px;height:38.7px;background:#f4f4f4;border-top:1.6px solid #c6c6c6;border-bottom:1.6px solid #c6c6c6"></div>
<div class="abs" style="left:99px;top:451.6px;width:166.3px;height:38.7px;background:#fff"></div>
<div class="abs" style="left:101px;top:452.6px;width:116.3px;height:37.1px;background:#cccccc;border-left:1px solid #b9b9b9;border-bottom:1.5px solid #bdbdbd;border-top:1.2px solid #c2c2c2"></div>
<div class="abs" style="left:217.3px;top:452.6px;width:46px;height:37.1px;background:#b0dd58;border-bottom:1.5px solid #9fc94e;border-top:1.2px solid #a5d04f;border-right:1px solid #a1cc4c"></div>
<div class="t" style="z-index:3;left:154px;top:462.35px;width:60px;text-align:right;font-size:17.4px;color:#505050;-webkit-text-stroke:0.25px #505050">6</div>
<div class="t" style="z-index:3;left:221px;top:462.35px;font-size:17.4px;letter-spacing:-0.7px;color:#4a6a12;-webkit-text-stroke:0.25px #4a6a12">2</div>
<div class="abs" style="left:0;top:0;width:100%;height:100%;border-radius:50%;box-shadow:inset 0 0 6px 4px rgba(247,247,247,0.85)"></div>
</div>
<div class="abs" style="left:615.9px;top:240px;width:10.5px;height:142px;background:#f5f5f5;overflow:hidden;clip-path:polygon(5.5px 0,10.5px 0,10.5px 142px,8.5px 142px,0 130px,0 14px)"><div class="abs" style="left:0;top:-2.8px;width:100%;height:7px;background:#fff;border-top:1.6px solid #d2d2d2;border-bottom:1.6px solid #d2d2d2;box-sizing:content-box"></div><div class="abs" style="left:0;top:42.9px;width:100%;height:7px;background:#fff;border-top:1.6px solid #d2d2d2;border-bottom:1.6px solid #d2d2d2;box-sizing:content-box"></div><div class="abs" style="left:0;top:88.6px;width:100%;height:7px;background:#fff;border-top:1.6px solid #d2d2d2;border-bottom:1.6px solid #d2d2d2;box-sizing:content-box"></div><div class="abs" style="left:0;top:134.3px;width:100%;height:7px;background:#fff;border-top:1.6px solid #d2d2d2;border-bottom:1.6px solid #d2d2d2;box-sizing:content-box"></div></div>
</body></html>
